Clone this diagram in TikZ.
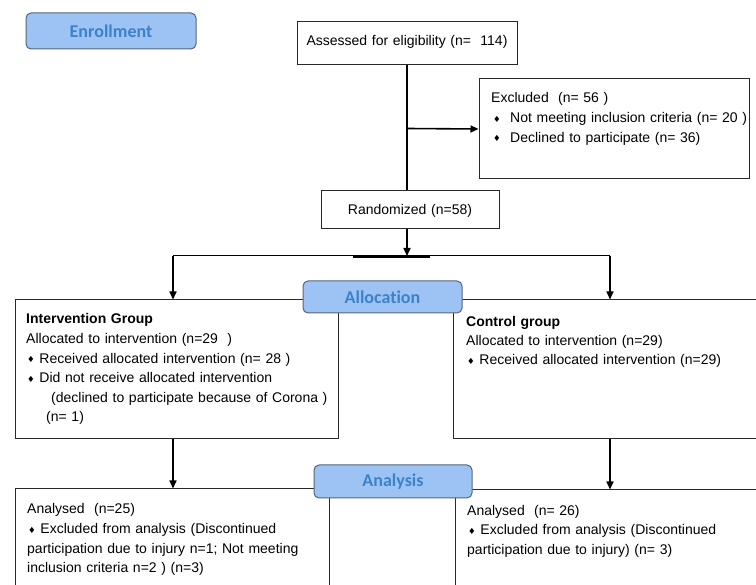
\documentclass[tikz,border=0pt]{standalone}
\usepackage{fontspec}
\setmainfont{Liberation Sans}
\newfontfamily\labfont[Ligatures=NoCommon]{Carlito}
\newfontfamily\symfont{DejaVu Sans}
\usetikzlibrary{arrows.meta}
\definecolor{labfill}{HTML}{9DC3F5}
\definecolor{labdraw}{HTML}{55657A}
\definecolor{labtext}{HTML}{3C82C8}
\definecolor{boxline}{HTML}{2A2A2A}
\newcommand\bul{\raisebox{0.3pt}{\fontsize{8.5}{8.5}\selectfont\symfont ♦}}
\begin{document}
\begin{tikzpicture}[x=1pt,y=-1pt,
  box/.style={draw=boxline,line width=1pt,fill=white,inner sep=0pt},
  lab/.style={draw=labdraw,line width=1pt,fill=labfill,rounded corners=5pt,inner sep=0pt,
    font=\labfont\bfseries\fontsize{18}{20}\selectfont,text=labtext},
  txt/.style={anchor=base west,inner sep=0pt,align=left,text width=#1,
    font=\fontsize{14}{19.6}\selectfont},
  txt/.default=300pt,
  conn/.style={line width=1.6pt,black},
  arr/.style={conn,-{Triangle[length=8pt,width=7pt]}}]
\useasboundingbox (0,0) rectangle (756,585);
\clip (0,0) rectangle (756,585);
% boxes
\node[box,minimum width=220pt,minimum height=43pt] (assess) at (407,43.5) {};
\node[txt=220pt,anchor=base] (assesst) at (407,46) {\centering Assessed for eligibility (n=\ \ 114)\par};
\node[box,minimum width=270pt,minimum height=100pt] (excl) at (614,129) {};
\node[box,minimum width=178pt,minimum height=38pt] (rand) at (410,210) {};
\node[txt=178pt,anchor=base] (randt) at (410,215) {\centering Randomized (n=58)\par};
\node[box,minimum width=323pt,minimum height=139pt] (interv) at (176.5,369.5) {};
\node[box,minimum width=347pt,minimum height=139pt] (ctrl) at (626.5,369.5) {};
\node[box,minimum width=314pt,minimum height=131pt] (anl) at (172,554.5) {};
\node[box,minimum width=345pt,minimum height=130pt] (anr) at (627.5,555) {};
% texts
\node[txt=260pt] (exclt) at (491,103) {Excluded\ \ (n= 56 )\\
\hspace*{2pt}\bul\ \ Not meeting inclusion criteria (n= 20 )\\
\hspace*{2pt}\bul\ \ Declined to participate (n= 36)};
\node[txt=310pt] (intervt) at (26,324) {\textbf{Intervention Group}\\
Allocated to intervention (n=29\ \ )\\
\hspace*{1pt}\bul\ Received allocated intervention (n= 28 )\\
\hspace*{1pt}\bul\ Did not receive allocated intervention\\
\hspace*{25pt}(declined to participate because of Corona )\\
\hspace*{20pt}(n= 1)};
\node[txt=280pt,font=\fontsize{14}{19}\selectfont] (ctrlt) at (466,326.5) {\textbf{Control group}\\
Allocated to intervention (n=29)\\
\hspace*{1pt}\bul\ Received allocated intervention (n=29)};
\node[txt=300pt] (anlt) at (27,514) {Analysed\ \ (n=25)\\
\hspace*{1pt}\bul\ Excluded from analysis (Discontinued\\
participation due to injury n=1; Not meeting\\
inclusion criteria n=2 ) (n=3)};
\node[txt=285pt] (anrt) at (467,515) {Analysed\ \ (n= 26)\\
\hspace*{1pt}\bul\ Excluded from analysis (Discontinued\\
participation due to injury) (n= 3)};
% connectors
\coordinate (split) at (407,256);
\coordinate (lsplit) at (173,256);
\coordinate (rsplit) at (610,256);
\draw[conn] (assess.south -| split) -- (rand.north -| split);
\draw[arr] (assess.south -| split) ++(0,63) coordinate (exjoin) -- (excl.west);
\draw[arr] (rand.south -| split) -- (split);
\draw[line width=1pt] (lsplit) -- (rsplit);
\draw[line width=2.2pt] (353,257) -- (430,257);
\draw[arr] (lsplit) -- (lsplit |- interv.north);
\draw[arr] (rsplit) -- (rsplit |- ctrl.north);
\draw[arr] (interv.south -| lsplit) -- (anl.north -| lsplit);
\draw[arr] (ctrl.south -| rsplit) -- (anr.north -| rsplit);
% labels
\node[lab,minimum width=170pt,minimum height=36pt] (enroll) at (111,31) {Enrollment};
\node[lab,minimum width=159pt,minimum height=32pt] (alloc) at (382.5,297) {Allocation};
\node[lab,minimum width=158pt,minimum height=33pt] (analysis) at (393,481.5) {Analysis};
\end{tikzpicture}
\end{document}
